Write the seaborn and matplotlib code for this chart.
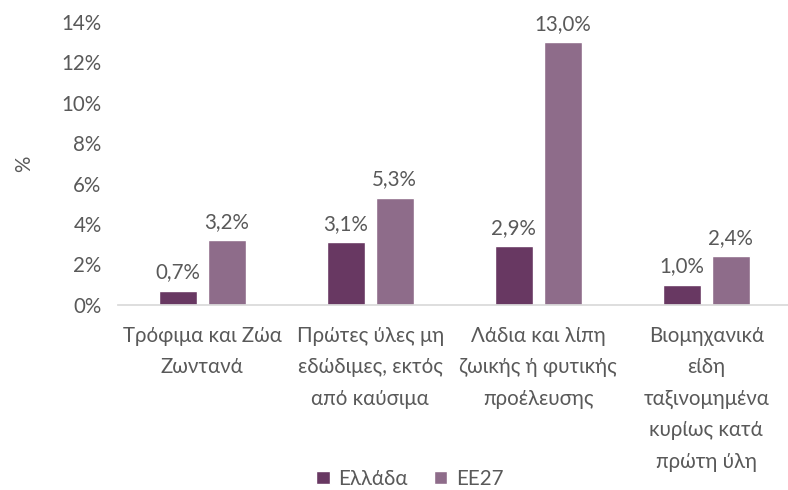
import matplotlib
matplotlib.use("Agg")
import matplotlib.pyplot as plt
import seaborn as sns
import pandas as pd
from matplotlib.ticker import FuncFormatter

categories = ["Τρόφιμα και Ζώα\nΖωντανά",
              "Πρώτες ύλες μη\nεδώδιμες, εκτός\nαπό καύσιμα",
              "Λάδια και λίπη\nζωικής ή φυτικής\nπροέλευσης",
              "Βιομηχανικά\nείδη\nταξινομημένα\nκυρίως κατά\nπρώτη ύλη"]
greece = [0.7, 3.1, 2.9, 1.0]
eu27 = [3.2, 5.3, 13.0, 2.4]
series_names = ["Ελλάδα", "ΕΕ27"]
colors = ["#683862", "#8E6C8A"]

df = pd.DataFrame({
    "cat": categories * 2,
    "series": [series_names[0]] * 4 + [series_names[1]] * 4,
    "val": greece + eu27,
})

sns.set_theme(style="white")
plt.rcParams['font.family'] = ['Lato', 'DejaVu Sans']
text_color = "#595959"
fs = 14.8

fig = plt.figure(figsize=(7.88, 4.9), dpi=100)
ax = fig.add_axes([0.15, 0.378, 0.853, 0.577])
sns.barplot(data=df, x="cat", y="val", hue="series", palette=colors,
            saturation=1, width=0.583, gap=0.224, ax=ax, legend=True)

ax.set_ylim(0, 14)
ax.set_yticks(range(0, 15, 2))
ax.yaxis.set_major_formatter(FuncFormatter(lambda v, p: f"{int(v)}%"))
ax.set_xlim(-0.5, 3.5)
for s in ["top", "right", "left"]:
    ax.spines[s].set_visible(False)
ax.spines["bottom"].set_color("#D9D9D9")
ax.tick_params(axis="both", length=0, labelsize=fs, colors=text_color)
ax.tick_params(axis="x", pad=15)
ax.tick_params(axis="y", pad=12)
for lbl in ax.get_xticklabels():
    lbl.set_linespacing(1.72)
ax.set_xlabel("")
ax.set_ylabel("%", fontsize=fs, color=text_color, labelpad=20)

for cont in ax.containers:
    ax.bar_label(cont, labels=[f"{v:.1f}%".replace(".", ",") for v in cont.datavalues],
                 padding=6, fontsize=fs, color=text_color)

handles, labels = ax.get_legend_handles_labels()
ax.get_legend().remove()
leg = fig.legend(handles, labels, loc="lower center", bbox_to_anchor=(0.52, -0.035), ncol=2,
                 frameon=False, fontsize=fs, handlelength=0.65, handleheight=0.65,
                 handletextpad=0.4, columnspacing=1.3)
for t in leg.get_texts():
    t.set_color(text_color)

fig.savefig("out.png", dpi=100)
